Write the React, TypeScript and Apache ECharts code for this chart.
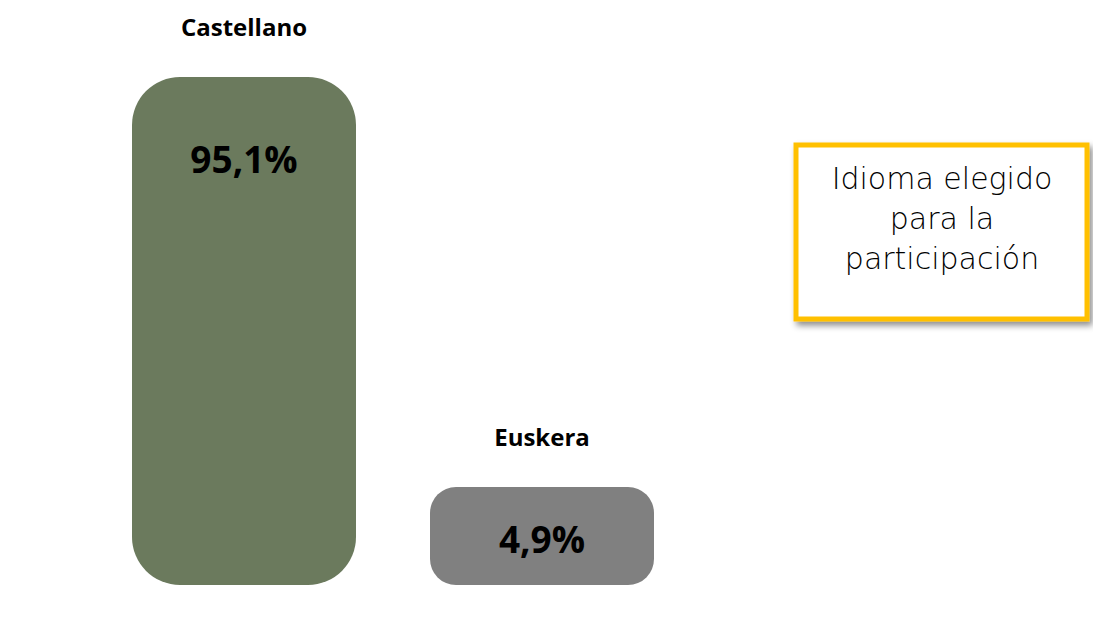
import React, { useEffect, useRef } from "react";
import * as echarts from "echarts";

const categories = ["Castellano", "Euskera"];
const values = [95.1, 4.9];
const valueLabels = ["95,1%", "4,9%"];
const barColors = ["#6B7A5D", "#808080"];
const boxTitle = "Idioma elegido\npara la\nparticipación";

export default function App() {
  const ref = useRef<HTMLDivElement>(null);
  useEffect(() => {
    const chart = echarts.init(ref.current!, null, { renderer: "svg" });
    const mainData = values.map((v, i) => ({
      value: v,
      itemStyle: {
        color: barColors[i],
        borderRadius: i === 0 ? 48 : 26,
      },
      label:
        i === 0
          ? { position: "insideTop", distance: 63 }
          : { position: "inside", offset: [0, 2] },
    }));
    chart.setOption({
      animation: false,
      grid: { left: 95, width: 596, top: 77, bottom: 49 },
      xAxis: {
        type: "category",
        data: categories,
        show: false,
      },
      yAxis: { type: "value", min: 0, max: 95.1, show: false },
      series: [
        {
          type: "bar",
          data: mainData,
          barWidth: 224,
          barMinHeight: 98,
          label: {
            show: true,
            formatter: (p: any) => valueLabels[p.dataIndex],
            fontFamily: "Open Sans",
            fontWeight: "bold",
            fontSize: 37,
            color: "#000",
          },
        },
        {
          type: "bar",
          data: values,
          barWidth: 224,
          barGap: "-100%",
          barMinHeight: 98,
          itemStyle: { color: "transparent" },
          silent: true,
          label: {
            show: true,
            position: "top",
            distance: 39,
            formatter: "{b}",
            fontFamily: "Open Sans",
            fontWeight: "bold",
            fontSize: 24,
            color: "#000",
          },
        },
      ],
      graphic: [
        {
          type: "rect",
          shape: { x: 796, y: 145, width: 291, height: 174 },
          style: {
            fill: "#fff",
            stroke: "#FFC000",
            lineWidth: 5,
            shadowBlur: 6,
            shadowOffsetX: 3,
            shadowOffsetY: 4,
            shadowColor: "rgba(0,0,0,0.45)",
          },
        },
        {
          type: "text",
          x: 942,
          y: 218,
          style: {
            text: boxTitle,
            align: "center",
            verticalAlign: "middle",
            fontFamily: "DejaVu Sans",
            fontWeight: 200,
            fontSize: 30,
            lineHeight: 40,
            fill: "#000",
          },
        },
      ],
    });
    return () => chart.dispose();
  }, []);
  return (
    <div
      ref={ref}
      style={{ position: "absolute", left: 0, top: 0, width: 1093, height: 634, background: "#fff" }}
    />
  );
}
